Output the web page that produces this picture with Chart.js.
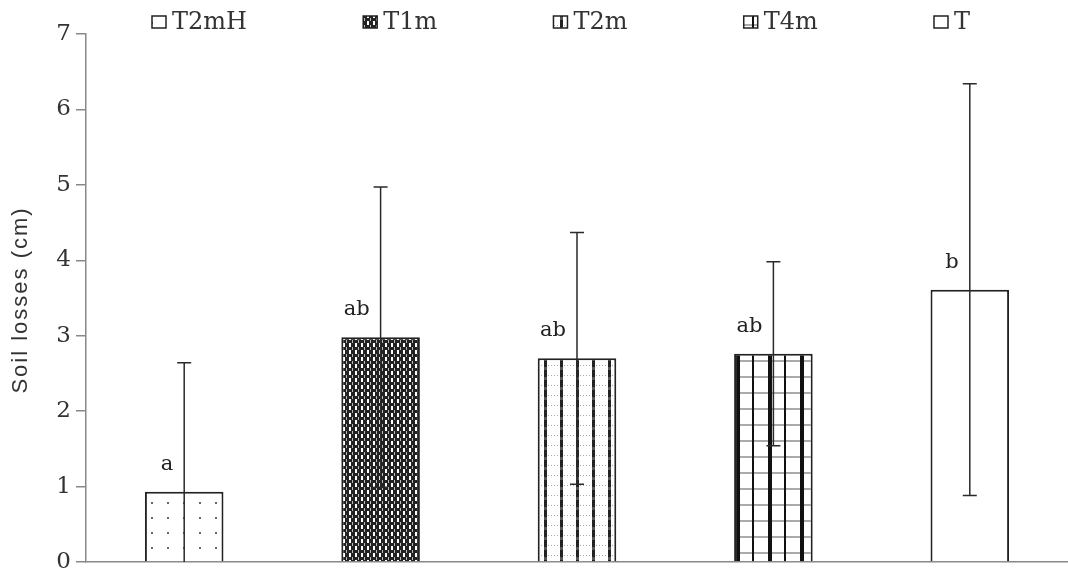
<!DOCTYPE html>
<html>
<head>
<meta charset="utf-8">
<script src="https://cdn.jsdelivr.net/npm/chart.js@4.4.1/dist/chart.umd.min.js"></script>
<style>
  html, body { margin: 0; padding: 0; background: #fff; }
  #wrap { width: 1068px; height: 570px; position: relative; }
</style>
</head>
<body>
<div id="wrap"><canvas id="c" width="1068" height="570"></canvas></div>
<script>
// ---- data ----
const categories = ['T2mH', 'T1m', 'T2m', 'T4m', 'T'];
const meanValues = [0.93, 2.98, 2.70, 2.76, 3.61];
const errorValues = [1.71, 1.99, 1.67, 1.22, 2.73];
const groupLetters = ['a', 'ab', 'ab', 'ab', 'b'];
const yAxisTitle = 'Soil losses (cm)';
const yMin = 0, yMax = 7, yStep = 1;

// ---- patterns ----
function makePattern(w, h, draw) {
  const c = document.createElement('canvas');
  c.width = w; c.height = h;
  const g = c.getContext('2d');
  g.fillStyle = '#fff'; g.fillRect(0, 0, w, h);
  draw(g);
  return g.createPattern(c, 'repeat');
}
const patDots = makePattern(16, 15, g => { g.fillStyle = '#666'; g.fillRect(7, 7, 2, 2); });
const patDense = makePattern(6, 7, g => {
  g.fillStyle = '#222'; g.fillRect(0, 0, 6, 7);
  g.fillStyle = '#fff'; g.fillRect(1, 0, 2, 4);
  g.fillStyle = '#bbb'; g.fillRect(4, 4, 1, 3);
});
const patVLines = makePattern(16, 10, g => {
  g.fillStyle = '#222'; g.fillRect(0, 0, 3, 7);
  g.fillStyle = '#555'; g.fillRect(0, 7, 3, 3);
  g.fillStyle = '#aaa'; for (let x = 4; x < 16; x += 3) g.fillRect(x, 5, 1, 1);
});
const patGrid = makePattern(32, 16, g => {
  g.fillStyle = '#aaa'; g.fillRect(0, 8, 32, 2);
  g.fillStyle = '#111'; g.fillRect(0, 0, 4, 16); g.fillRect(16, 0, 2, 16);
});
const fills = [patDots, patDense, patVLines, patGrid, '#ffffff'];

const FONT_SERIF = '"DejaVu Serif", serif';

// ---- plugins ----
const extras = {
  id: 'extras',
  afterDatasetsDraw(chart) {
    const ctx = chart.ctx;
    const meta = chart.getDatasetMeta(0);
    const ys = chart.scales.y;
    const area = chart.chartArea;
    ctx.save();
    ctx.beginPath();
    ctx.rect(area.left, area.top - 10, area.right - area.left, area.bottom - area.top + 10);
    ctx.clip();
    ctx.strokeStyle = '#2a2a2a';
    ctx.lineWidth = 1.5;
    meta.data.forEach((bar, i) => {
      const x = bar.x;
      const yHi = ys.getPixelForValue(meanValues[i] + errorValues[i]);
      const yLo = ys.getPixelForValue(meanValues[i] - errorValues[i]);
      ctx.beginPath();
      ctx.moveTo(x, yHi); ctx.lineTo(x, yLo);
      ctx.moveTo(x - 7, yHi); ctx.lineTo(x + 7, yHi);
      ctx.moveTo(x - 7, yLo); ctx.lineTo(x + 7, yLo);
      ctx.stroke();
    });
    ctx.restore();

    // group letters
    ctx.save();
    ctx.fillStyle = '#222';
    ctx.font = '21px ' + FONT_SERIF;
    ctx.textAlign = 'right';
    ctx.textBaseline = 'alphabetic';
    meta.data.forEach((bar, i) => {
      ctx.fillText(groupLetters[i], bar.x - 11, bar.y - 22);
    });
    ctx.restore();
  },
  afterDraw(chart) {
    const ctx = chart.ctx;
    // y-axis title
    ctx.save();
    ctx.translate(21, 300);
    ctx.rotate(-Math.PI / 2);
    ctx.fillStyle = '#333';
    ctx.font = '22px "Liberation Sans Narrow", "Liberation Sans", sans-serif';
    ctx.letterSpacing = '2px';
    ctx.textAlign = 'center';
    ctx.textBaseline = 'middle';
    ctx.fillText(yAxisTitle, 0, 0);
    ctx.restore();

    // legend
    ctx.save();
    ctx.font = '24px ' + FONT_SERIF;
    ctx.textBaseline = 'middle';
    const boxW = 14, boxH = 12, boxGap = 6;
    const widths = categories.map(t => boxW + boxGap + ctx.measureText(t).width);
    const totalSpan = 818;
    const gap = (totalSpan - widths.reduce((a, b) => a + b, 0)) / (categories.length - 1);
    let x = 152;
    const yMid = 22;
    categories.forEach((t, i) => {
      ctx.fillStyle = fills[i];
      ctx.fillRect(x, yMid - boxH / 2, boxW, boxH);
      ctx.strokeStyle = '#222';
      ctx.lineWidth = 1.5;
      ctx.strokeRect(x, yMid - boxH / 2, boxW, boxH);
      ctx.fillStyle = '#333';
      ctx.fillText(t, x + boxW + boxGap, yMid + 1);
      x += widths[i] + gap;
    });
    ctx.restore();
  }
};

new Chart(document.getElementById('c'), {
  type: 'bar',
  data: {
    labels: categories,
    datasets: [{
      data: meanValues,
      backgroundColor: fills,
      borderColor: '#222',
      borderWidth: 2,
      barPercentage: 0.4,
      categoryPercentage: 1.0
    }]
  },
  options: {
    responsive: false,
    animation: false,
    devicePixelRatio: 1,
    layout: { padding: { top: 34, left: 0, right: 0, bottom: 0 } },
    plugins: { legend: { display: false }, tooltip: { enabled: false } },
    scales: {
      x: {
        ticks: { display: false },
        grid: { display: false },
        border: { display: true, color: '#888', width: 1.5 },
        afterFit(s) { s.height = 8; s.paddingLeft = 0; s.paddingRight = 0; }
      },
      y: {
        min: yMin, max: yMax,
        ticks: {
          stepSize: yStep,
          color: '#333',
          padding: 5,
          font: { family: '"DejaVu Serif", serif', size: 23 }
        },
        grid: { display: true, drawOnChartArea: false, drawTicks: true, tickLength: 10, color: '#888', lineWidth: 1.5 },
        border: { display: true, color: '#888', width: 1.5 },
        afterFit(s) { s.width = 86; s.paddingTop = 0; s.paddingBottom = 0; }
      }
    }
  },
  plugins: [extras]
});
</script>
</body>
</html>
